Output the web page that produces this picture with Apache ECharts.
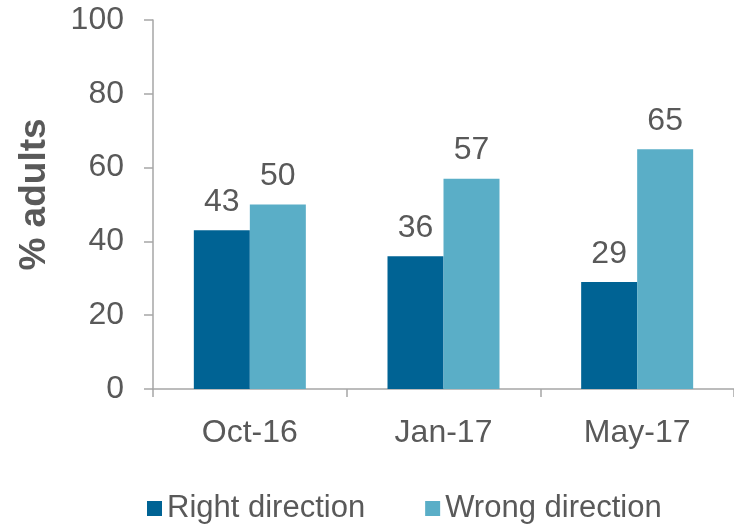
<!DOCTYPE html>
<html>
<head>
<meta charset="utf-8">
<script src="https://cdn.jsdelivr.net/npm/echarts@6/dist/echarts.min.js"></script>
<style>
  html, body { margin: 0; padding: 0; background: #fff; }
  #chart { width: 734px; height: 524px; }
</style>
</head>
<body>
<div id="chart"></div>
<script>
const categories = ['Oct-16', 'Jan-17', 'May-17']
const rightDirection = [43, 36, 29]
const wrongDirection = [50, 57, 65]
const yTicks = [0, 20, 40, 60, 80, 100]

const textColor = '#595959'
const axisColor = '#a6a6a6'

const chart = echarts.init(document.getElementById('chart'))
chart.setOption({
  animation: false,
  textStyle: { fontFamily: 'Liberation Sans, Arial, sans-serif' },
  legend: {
    left: 142,
    top: 488,
    itemWidth: 15,
    itemHeight: 15,
    itemGap: 60,
    icon: 'rect',
    textStyle: { fontSize: 31, color: textColor, padding: [0, 0, 0, 0] },
    data: ['Right direction', 'Wrong direction']
  },
  grid: {
    left: 153,
    top: 20,
    width: 588,
    height: 369
  },
  xAxis: {
    type: 'category',
    data: categories,
    axisLine: { lineStyle: { color: axisColor, width: 1.5 } },
    axisTick: { show: true, length: 8, lineStyle: { color: axisColor, width: 1.5 } },
    axisLabel: { fontSize: 32, color: textColor, margin: 28 }
  },
  yAxis: {
    type: 'value',
    min: yTicks[0],
    max: yTicks[yTicks.length - 1],
    interval: 20,
    name: '% adults',
    nameLocation: 'middle',
    nameRotate: 90,
    nameGap: 100,
    nameTextStyle: { fontSize: 37, fontWeight: 'bold', color: textColor, padding: [0, 0, 0, 20] },
    axisLine: { show: true, lineStyle: { color: axisColor, width: 1.5 } },
    axisTick: { show: true, length: 9, lineStyle: { color: axisColor, width: 1.5 } },
    splitLine: { show: false },
    axisLabel: { fontSize: 32, color: textColor, margin: 29 }
  },
  series: [
    {
      name: 'Right direction',
      type: 'bar',
      data: rightDirection,
      barWidth: 56,
      barGap: '0%',
      itemStyle: { color: '#006394' },
      label: { show: true, position: 'top', distance: 12, fontSize: 32, color: textColor }
    },
    {
      name: 'Wrong direction',
      type: 'bar',
      data: wrongDirection,
      barWidth: 56,
      itemStyle: { color: '#5aaec7' },
      label: { show: true, position: 'top', distance: 12, fontSize: 32, color: textColor }
    }
  ]
})
</script>
</body>
</html>
